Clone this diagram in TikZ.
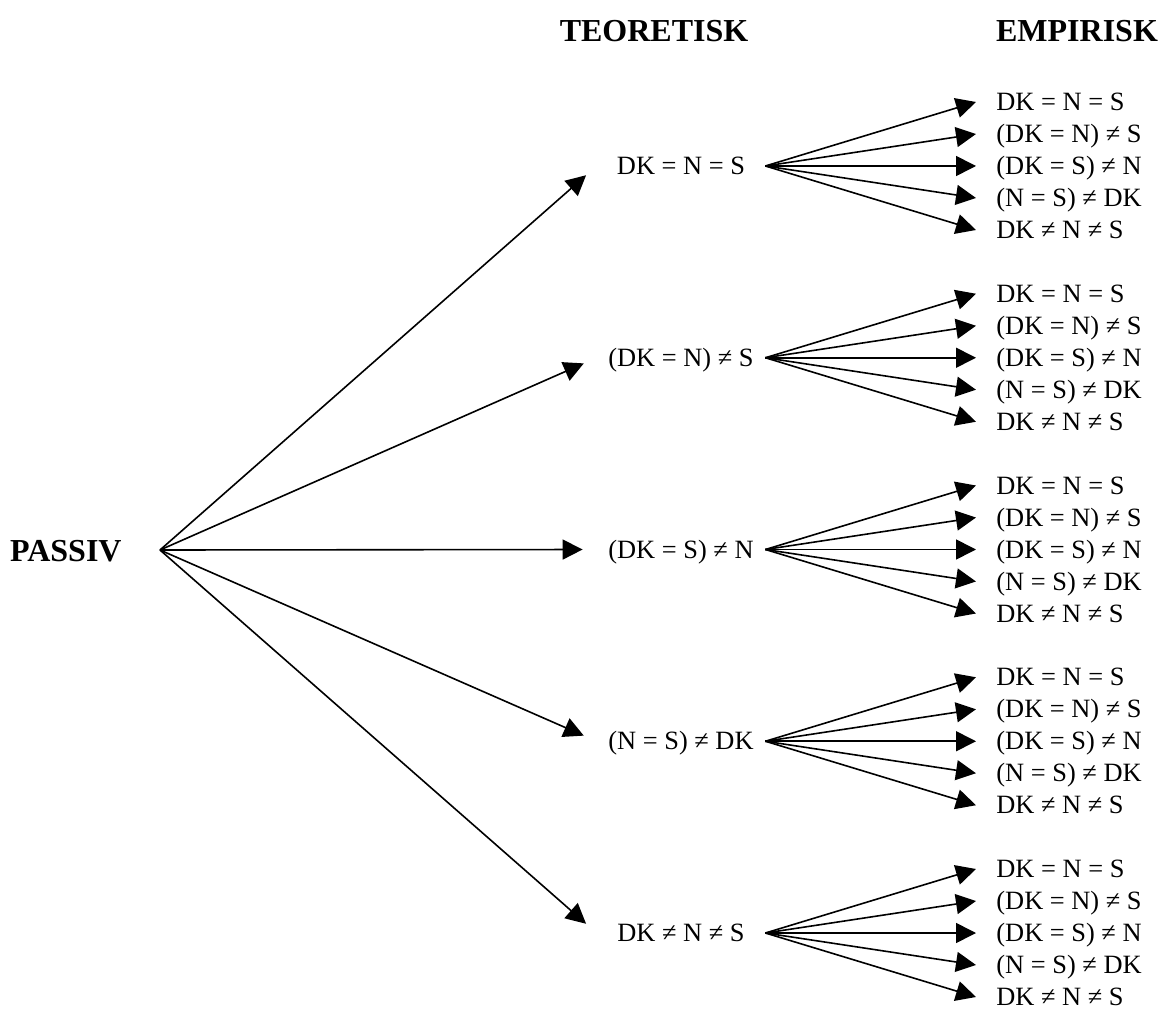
\documentclass[tikz,border=0pt]{standalone}
\usepackage{fontspec}
\setmainfont{Liberation Serif}
\usetikzlibrary{arrows.meta}

\begin{document}
\begin{tikzpicture}[x=0.5pt, y=-0.5pt,
	arr/.style={-{Triangle[length=10pt, width=10pt]}, line width=0.8pt},
	head/.style={font=\fontsize{16}{19}\selectfont\bfseries, text height=11pt, text depth=0pt},
	theo/.style={font=\fontsize{13.2}{15}\selectfont, minimum width=84pt, inner sep=0pt, text height=8.7pt, text depth=0pt},
	emp/.style={font=\fontsize{13.2}{15}\selectfont, anchor=west, inner xsep=10pt, inner ysep=0pt, text height=8.7pt, text depth=0pt}]
	\useasboundingbox (0, 0) rectangle (1161, 1010);
	% Headings and root:
	\node[head] (teo) at (654, 31) {TEORETISK};
	\node[head] (emp) at (1077, 31) {EMPIRISK};
	\node[head, anchor=east, inner xsep=19pt] (passiv) at (160, 550) {PASSIV};
	% Theoretical column, each with its empirical fan:
	\foreach \i/\y/\txt in {1/166/{DK = N = S}, 2/357.75/{(DK = N) ≠ S}, 3/549.5/{(DK = S) ≠ N}, 4/741.25/{(N = S) ≠ DK}, 5/933/{DK ≠ N ≠ S}} {
		\node[theo] (t\i) at (681, \y) {\txt};
		\draw[arr, shorten >=7pt] (passiv.east) -- (t\i.west);
		\foreach \j/\d/\lab in {1/-64/{DK = N = S}, 2/-32/{(DK = N) ≠ S}, 3/0/{(DK = S) ≠ N}, 4/32/{(N = S) ≠ DK}, 5/64/{DK ≠ N ≠ S}} {
			\node[emp] (e\i-\j) at (976, \y+\d) {\lab};
			\draw[arr] (t\i.east) -- (e\i-\j.west);
		}
	}
\end{tikzpicture}
\end{document}
